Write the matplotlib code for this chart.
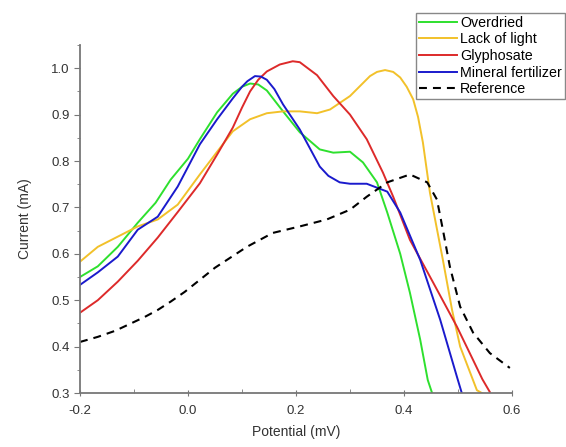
import matplotlib
matplotlib.use("Agg")
import matplotlib.pyplot as plt
from matplotlib.ticker import MultipleLocator

plt.rcParams['font.family'] = ['Liberation Sans', 'DejaVu Sans']
plt.rcParams['axes.unicode_minus'] = False

# Overdried
x_over = [-0.2, -0.167, -0.13, -0.093, -0.06, -0.032, 0.0, 0.022, 0.054, 0.083, 0.1, 0.115, 0.13,
          0.146, 0.176, 0.207, 0.244, 0.269, 0.30, 0.324, 0.35, 0.369, 0.393, 0.411, 0.43, 0.444, 0.452]
y_over = [0.55, 0.573, 0.615, 0.667, 0.71, 0.76, 0.805, 0.847, 0.905, 0.945, 0.96, 0.967, 0.965,
          0.952, 0.907, 0.862, 0.825, 0.818, 0.82, 0.797, 0.754, 0.689, 0.60, 0.516, 0.415, 0.328, 0.30]

# Lack of light
x_light = [-0.2, -0.167, -0.13, -0.093, -0.056, -0.019, 0.022, 0.054, 0.083, 0.115, 0.146, 0.176,
           0.207, 0.239, 0.263, 0.30, 0.337, 0.35, 0.365, 0.38, 0.393, 0.405, 0.417, 0.426, 0.435,
           0.448, 0.472, 0.489, 0.504, 0.535, 0.544]
y_light = [0.583, 0.615, 0.637, 0.659, 0.674, 0.706, 0.771, 0.82, 0.864, 0.89, 0.903, 0.907,
           0.907, 0.903, 0.911, 0.94, 0.983, 0.992, 0.996, 0.992, 0.98, 0.96, 0.933, 0.895, 0.84,
           0.732, 0.587, 0.479, 0.40, 0.306, 0.30]

# Glyphosate
x_gly = [-0.2, -0.167, -0.13, -0.093, -0.056, -0.019, 0.022, 0.054, 0.083, 0.1, 0.115, 0.13, 0.146,
         0.17, 0.194, 0.207, 0.239, 0.269, 0.30, 0.331, 0.361, 0.38, 0.411, 0.454, 0.498, 0.528,
         0.545, 0.559]
y_gly = [0.473, 0.50, 0.54, 0.585, 0.635, 0.69, 0.752, 0.814, 0.872, 0.915, 0.95, 0.975, 0.993,
         1.008, 1.015, 1.013, 0.985, 0.94, 0.90, 0.847, 0.775, 0.723, 0.63, 0.538, 0.443, 0.371,
         0.33, 0.302]

# Mineral fertilizer
x_min = [-0.2, -0.167, -0.13, -0.093, -0.056, -0.019, 0.022, 0.054, 0.083, 0.1, 0.11, 0.124, 0.135,
         0.146, 0.16, 0.176, 0.207, 0.244, 0.26, 0.281, 0.30, 0.331, 0.369, 0.393, 0.43, 0.467,
         0.498, 0.507]
y_min = [0.533, 0.56, 0.594, 0.652, 0.68, 0.745, 0.836, 0.89, 0.935, 0.96, 0.972, 0.983, 0.982,
         0.975, 0.955, 0.922, 0.868, 0.788, 0.768, 0.754, 0.751, 0.751, 0.734, 0.689, 0.587, 0.458,
         0.335, 0.30]

# Reference
x_ref = [-0.2, -0.167, -0.135, -0.111, -0.08, -0.056, -0.032, -0.006, 0.05, 0.109, 0.157, 0.207,
         0.257, 0.30, 0.331, 0.369, 0.411, 0.443, 0.461, 0.472, 0.485, 0.504, 0.528, 0.559, 0.596]
y_ref = [0.41, 0.421, 0.434, 0.447, 0.464, 0.479, 0.497, 0.518, 0.57, 0.615, 0.645, 0.659,
         0.674, 0.695, 0.723, 0.754, 0.771, 0.754, 0.717, 0.652, 0.572, 0.486, 0.43, 0.386, 0.354]

fig = plt.figure(figsize=(5.66, 4.47), dpi=100)
ax = fig.add_axes([0.1413, 0.1208, 0.7633, 0.7785])

kw = dict(lw=1.4, solid_joinstyle='round')
ax.plot(x_over, y_over, color='#2ee02e', label='Overdried', **kw)
ax.plot(x_light, y_light, color='#f2c12a', label='Lack of light', **kw)
ax.plot(x_gly, y_gly, color='#dd2a2a', label='Glyphosate', **kw)
ax.plot(x_min, y_min, color='#1a1acc', label='Mineral fertilizer', **kw)
ax.plot(x_ref, y_ref, color='black', lw=1.5, ls=(0, (3.8, 2.9)), label='Reference')

ax.set_xlim(-0.2, 0.6)
ax.set_ylim(0.3, 1.05)
ax.xaxis.set_major_locator(MultipleLocator(0.2))
ax.xaxis.set_minor_locator(MultipleLocator(0.1))
ax.yaxis.set_minor_locator(MultipleLocator(0.05))
ax.set_yticks([0.3, 0.4, 0.5, 0.6, 0.7, 0.8, 0.9, 1.0])

for s in ['top', 'right']:
    ax.spines[s].set_visible(False)
for s in ['left', 'bottom']:
    ax.spines[s].set_color('#777777')
    ax.spines[s].set_linewidth(1.3)

ax.tick_params(axis='x', which='major', direction='inout', length=5, color='#777777', labelsize=9.5, labelcolor='#333333', pad=6)
ax.tick_params(axis='x', which='minor', direction='in', length=3, color='#777777')
ax.tick_params(axis='y', which='major', direction='out', length=4, color='#777777', labelsize=9.5, labelcolor='#333333')
ax.tick_params(axis='y', which='minor', direction='out', length=2.5, color='#777777')

ax.set_xlabel('Potential (mV)', fontsize=10, color='#333333', labelpad=6)
ax.set_ylabel('Current (mA)', fontsize=10, color='#333333', labelpad=14)

leg = fig.legend(loc='upper left', bbox_to_anchor=(0.735, 0.971), fontsize=10.3,
                 frameon=True, fancybox=False, edgecolor='#888888', framealpha=1,
                 handlelength=2.7, handletextpad=0.2, labelspacing=0.18,
                 borderpad=0.2, borderaxespad=0)
leg.get_frame().set_linewidth(1.0)

fig.savefig('out.png', dpi=100)
